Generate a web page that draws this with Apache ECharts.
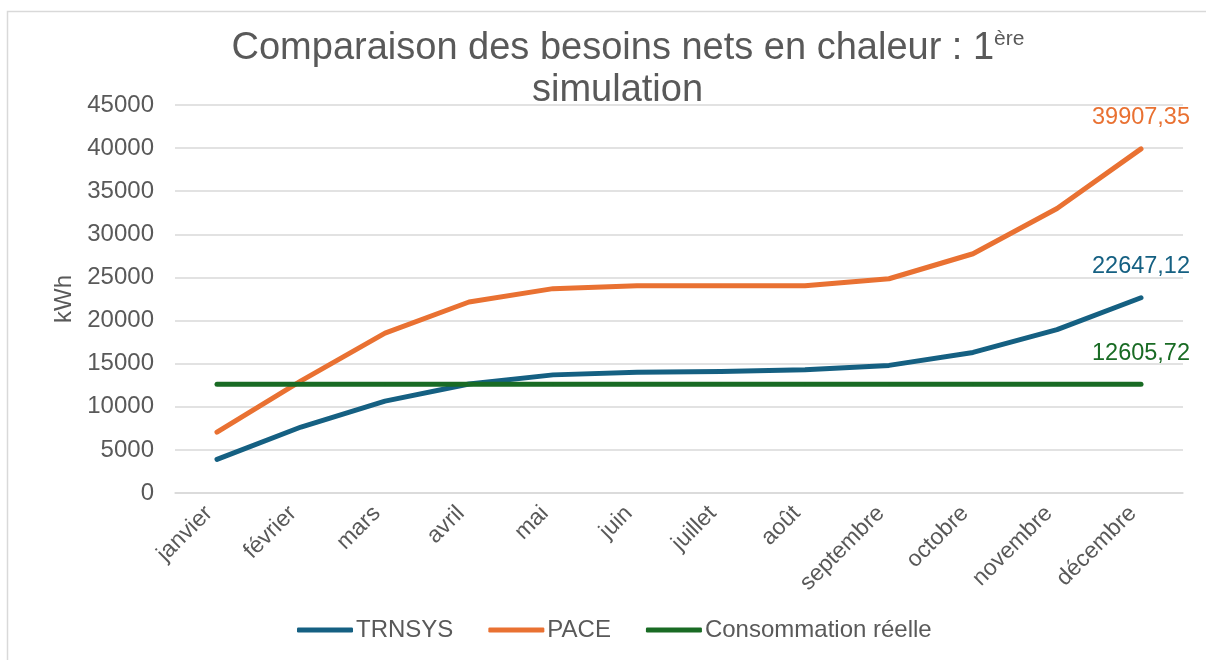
<!DOCTYPE html>
<html>
<head>
<meta charset="utf-8">
<script src="https://cdn.jsdelivr.net/npm/echarts@6/dist/echarts.min.js"></script>
<style>
  html, body { margin: 0; padding: 0; background: #ffffff; }
  #chart { width: 1206px; height: 660px; }
</style>
</head>
<body>
<div id="chart"></div>
<script>
// Monthly net heating demand (kWh)
const months = ['janvier', 'février', 'mars', 'avril', 'mai', 'juin', 'juillet', 'août', 'septembre', 'octobre', 'novembre', 'décembre'];
const trnsys = [3900, 7650, 10650, 12650, 13700, 14000, 14100, 14300, 14800, 16300, 18950, 22647.12];
const pace = [7050, 13000, 18550, 22150, 23700, 24050, 24050, 24050, 24850, 27750, 33000, 39907.35];
const consommation = [12605.72, 12605.72, 12605.72, 12605.72, 12605.72, 12605.72, 12605.72, 12605.72, 12605.72, 12605.72, 12605.72, 12605.72];
const yTicks = { min: 0, max: 45000, interval: 5000 };

const FONT = '"Liberation Sans", Arial, sans-serif';
const TEXT = '#595959';
const GRID = '#d9d9d9';
const COLORS = { trnsys: '#156082', pace: '#E97132', conso: '#196B24' };

// Only the December point carries a value label
function withLastLabel(values, color) {
  return values.map((v, i) => i === values.length - 1
    ? { value: v, label: { show: true, color: color } }
    : v);
}

function lineSeries(name, values, color) {
  return {
    name: name,
    type: 'line',
    data: withLastLabel(values, color),
    symbol: 'circle',
    symbolSize: 2,
    showSymbol: true,
    smooth: false,
    lineStyle: { color: color, width: 5, cap: 'round', join: 'round' },
    itemStyle: { color: color },
    label: {
      show: false,
      position: 'top',
      distance: 18,
      fontFamily: FONT,
      fontSize: 23.5,
      formatter: p => Number(p.value).toFixed(2).replace('.', ',')
    },
    emphasis: { disabled: true }
  };
}

const chart = echarts.init(document.getElementById('chart'), null, { renderer: 'canvas' });
chart.setOption({
  animation: false,
  backgroundColor: '#ffffff',
  textStyle: { fontFamily: FONT, color: TEXT },
  title: {
    text: '{t|Comparaison des besoins nets en chaleur : 1}{s|ère}\n{u|simulation}',
    left: 623,
    top: 23,
    textAlign: 'center',
    textStyle: {
      fontWeight: 'normal',
      rich: {
        t: { fontFamily: FONT, fontSize: 38, fontWeight: 'normal', color: TEXT, lineHeight: 42 },
        u: { fontFamily: FONT, fontSize: 38, fontWeight: 'normal', color: TEXT, lineHeight: 42, padding: [0, 21, 0, 0] },
        s: { fontFamily: FONT, fontSize: 21, fontWeight: 'normal', color: TEXT, lineHeight: 42, verticalAlign: 'top', padding: [1, 0, 0, 0] }
      }
    }
  },
  graphic: [{
    type: 'rect',
    shape: { x: 7.5, y: 11.5, width: 1220, height: 680 },
    style: { fill: 'none', stroke: '#d9d9d9', lineWidth: 1.5 },
    silent: true,
    z: -1
  }],
  legend: {
    data: ['TRNSYS', 'PACE', 'Consommation réelle'],
    left: 292,
    top: 613,
    icon: 'roundRect',
    itemWidth: 56,
    itemHeight: 5,
    itemGap: 35,
    textStyle: { fontFamily: FONT, fontSize: 24, color: TEXT, padding: [0, 0, 0, -2] }
  },
  grid: { left: 175, right: 23, top: 105, bottom: 167, containLabel: false },
  xAxis: {
    type: 'category',
    data: months,
    boundaryGap: true,
    axisLine: { show: true, lineStyle: { color: GRID, width: 1.5 } },
    axisTick: { show: false },
    axisLabel: { rotate: 45, margin: 25, verticalAlign: 'bottom', fontFamily: FONT, fontSize: 23, color: TEXT, interval: 0 }
  },
  yAxis: {
    type: 'value',
    min: yTicks.min,
    max: yTicks.max,
    interval: yTicks.interval,
    name: 'kWh',
    nameLocation: 'middle',
    nameRotate: 90,
    nameGap: 96,
    nameTextStyle: { fontFamily: FONT, fontSize: 24, color: TEXT },
    axisLine: { show: false },
    axisTick: { show: false },
    axisLabel: { margin: 21, fontFamily: FONT, fontSize: 24, color: TEXT, formatter: v => String(v) },
    splitLine: { show: true, lineStyle: { color: GRID, width: 1.5 } }
  },
  series: [
    lineSeries('TRNSYS', trnsys, COLORS.trnsys),
    lineSeries('PACE', pace, COLORS.pace),
    lineSeries('Consommation réelle', consommation, COLORS.conso)
  ]
});
</script>
</body>
</html>
